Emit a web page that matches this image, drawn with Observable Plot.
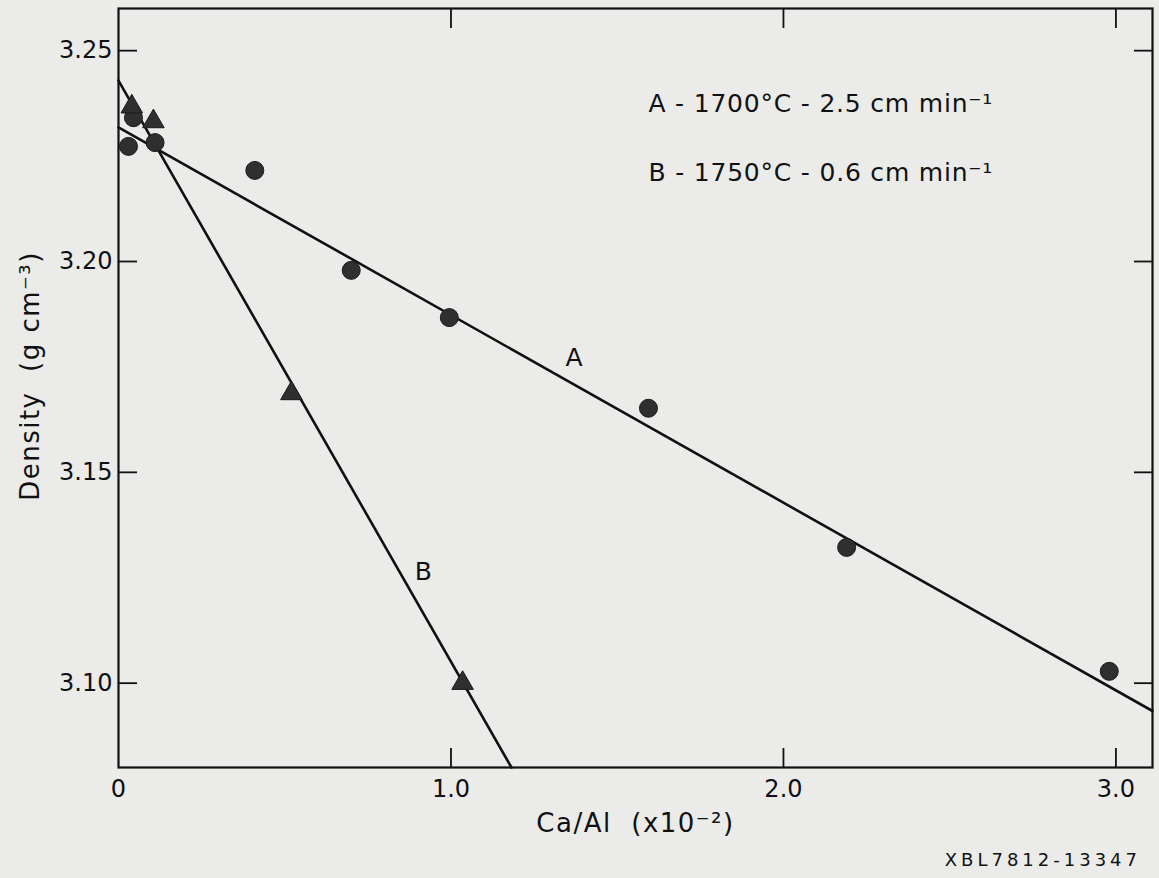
<!DOCTYPE html>
<html>
<head>
<meta charset="utf-8">
<script src="https://cdn.jsdelivr.net/npm/d3@7"></script>
<script src="https://cdn.jsdelivr.net/npm/@observablehq/plot@0.6"></script>
<style>
  html, body { margin: 0; padding: 0; background: #ebebea; }
  #chart { position: relative; width: 1159px; height: 878px; }
  #caption { position: absolute; right: 18px; top: 849px; font-family: "DejaVu Sans", sans-serif; font-size: 18px; letter-spacing: 4px; color: #111; }
</style>
</head>
<body>
<div id="chart"></div>
<script>
// Series A (circles): 1700 °C - 2.5 cm/min
const aX = [0.03, 0.045, 0.11, 0.41, 0.70, 0.995, 1.594, 2.19, 2.98];
const aY = [3.2273, 3.2341, 3.2282, 3.2216, 3.1979, 3.1867, 3.1652, 3.1322, 3.1028];
// Series B (triangles): 1750 °C - 0.6 cm/min
const bX = [0.04, 0.105, 0.52, 1.035];
const bY = [3.2367, 3.2332, 3.1687, 3.1000];
// Fitted lines (endpoints)
const lineAX = [0, 3.11];
const lineAY = [3.2318, 3.0934];
const lineBX = [0, 1.182];
const lineBY = [3.2429, 3.0800];
// Ticks
const xTicks = [0, 1, 2, 3];
const xTickLabels = ["0", "1.0", "2.0", "3.0"];
const yTicks = [3.10, 3.15, 3.20, 3.25];
const yTickLabels = ["3.10", "3.15", "3.20", "3.25"];
// Annotations
const legendLines = ["A - 1700°C - 2.5 cm min⁻¹", "B - 1750°C - 0.6 cm min⁻¹"];
const legendX = [1.594, 1.594];
const legendY = [3.2374, 3.2211];
const curveLabels = ["A", "B"];
const curveLabelX = [1.37, 0.917];
const curveLabelY = [3.177, 3.1263];

const ptsA = aX.map((x, i) => ({x, y: aY[i]}));
const ptsB = bX.map((x, i) => ({x, y: bY[i]}));
const lnA = lineAX.map((x, i) => ({x, y: lineAY[i]}));
const lnB = lineBX.map((x, i) => ({x, y: lineBY[i]}));
const legend = legendLines.map((t, i) => ({t, x: legendX[i], y: legendY[i]}));
const clabels = curveLabels.map((t, i) => ({t, x: curveLabelX[i], y: curveLabelY[i]}));

const font = "'DejaVu Sans', sans-serif";
const ink = "#111";

const chart = Plot.plot({
  width: 1159,
  height: 878,
  marginLeft: 118,
  marginRight: 7,
  marginTop: 8,
  marginBottom: 111,
  style: { background: "transparent", fontFamily: font, color: ink },
  x: { domain: [0, 3.11] },
  y: { domain: [3.08, 3.26] },
  marks: [
    Plot.frame({ stroke: ink, strokeWidth: 2.2 }),
    // inward ticks
    Plot.axisX({ anchor: "bottom", ticks: xTicks.slice(1), tickSize: -19, tickFormat: () => "", strokeWidth: 1.8, label: null }),
    Plot.axisX({ anchor: "top", ticks: xTicks.slice(1), tickSize: -19, tickFormat: () => "", strokeWidth: 1.8, label: null }),
    Plot.axisY({ anchor: "left", ticks: yTicks, tickSize: -19, tickFormat: () => "", strokeWidth: 1.8, label: null }),
    Plot.axisY({ anchor: "right", ticks: yTicks, tickSize: -19, tickFormat: () => "", strokeWidth: 1.8, label: null }),
    // tick labels
    Plot.axisX({ anchor: "bottom", ticks: xTicks, tickSize: 0, tickPadding: 12, fontSize: 24,
      tickFormat: (d) => xTickLabels[xTicks.indexOf(d)], label: null, textAnchor: "middle" }),
    Plot.axisY({ anchor: "left", ticks: yTicks, tickSize: 0, tickPadding: 6, fontSize: 24,
      tickFormat: (d) => yTickLabels[yTicks.findIndex(v => Math.abs(v - d) < 1e-9)], label: null }),
    // fitted lines
    Plot.line(lnA, { x: "x", y: "y", stroke: ink, strokeWidth: 2.6 }),
    Plot.line(lnB, { x: "x", y: "y", stroke: ink, strokeWidth: 2.6 }),
    // points
    Plot.dot(ptsA, { x: "x", y: "y", r: 9, fill: "#2f2f2f", stroke: "#1a1a1a", strokeWidth: 1 }),
    Plot.dot(ptsB, { x: "x", y: "y", symbol: "triangle", r: 8, fill: "#2f2f2f", stroke: "#1a1a1a", strokeWidth: 1 }),
    // labels
    Plot.text(clabels, { x: "x", y: "y", text: "t", fontSize: 25, fill: ink }),
    Plot.text(legend, { x: "x", y: "y", text: "t", fontSize: 25, textAnchor: "start", fill: ink }),
    // axis titles
    Plot.text(["Ca/Al  (x10⁻²)"], { frameAnchor: "bottom", dy: 64, fontSize: 26, fill: ink, textAnchor: "middle" }),
    Plot.text(["Density  (g cm⁻³)"], { frameAnchor: "left", dx: -88, dy: -12, rotate: -90, fontSize: 26, fill: ink, textAnchor: "middle" })
  ]
});
chart.querySelectorAll("text").forEach(t => {
  const s = t.textContent;
  if (s.includes("1700") || s.includes("1750")) t.setAttribute("letter-spacing", "0.8");
  else if (s.includes("Ca/Al") || s.includes("Density")) t.setAttribute("letter-spacing", "1.5");
});
document.getElementById("chart").appendChild(chart);
const cap = document.createElement("div");
cap.id = "caption";
cap.textContent = "XBL7812-13347";
document.getElementById("chart").appendChild(cap);
</script>
</body>
</html>
